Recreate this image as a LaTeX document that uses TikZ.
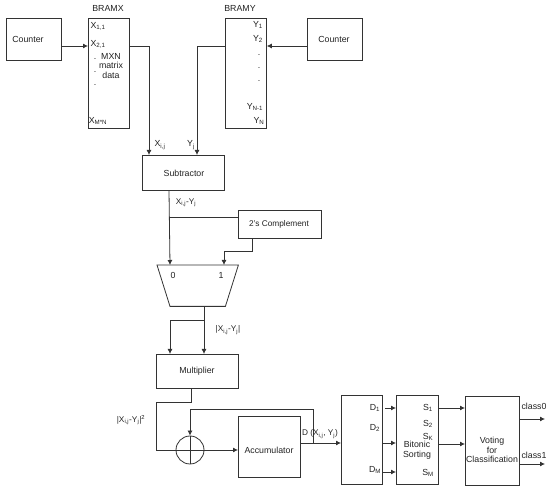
\documentclass[tikz,border=0pt]{standalone}
\usepackage{fontspec}
\setmainfont{Liberation Sans}
\usetikzlibrary{arrows.meta,calc}
\definecolor{ln}{HTML}{333333}
\definecolor{tx}{HTML}{222222}
\tikzset{
  box/.style={draw=ln,line width=0.8pt,rectangle,inner sep=0pt,anchor=north west},
  lbl/.style={inner sep=0pt,text=tx,font=\fontsize{8.8}{9.8}\selectfont,align=center},
  sm/.style={inner sep=0pt,text=tx,font=\fontsize{8.3}{9.5}\selectfont,align=center},
  wire/.style={draw=ln,line width=0.8pt},
  arr/.style={wire,-{Latex[length=5pt,width=5pt]}}
}
\newcommand{\sbs}[1]{\textsubscript{#1}}
\begin{document}
\begin{tikzpicture}[x=1pt,y=-1pt]
\useasboundingbox (0,0) rectangle (550,489);
% boxes
\node[box,minimum width=55pt,minimum height=42pt] (c1) at (6,18) {};
\node[box,minimum width=41pt,minimum height=110pt] (bx) at (88,18) {};
\node[box,minimum width=41pt,minimum height=110pt] (by) at (225,18) {};
\node[box,minimum width=55pt,minimum height=42pt] (c2) at (307,18) {};
\node[box,minimum width=82pt,minimum height=35pt] (sub) at (142,155) {};
\node[box,minimum width=83pt,minimum height=28pt] (comp) at (238,210) {};
\node[rectangle,minimum width=81pt,minimum height=41pt,inner sep=0pt,anchor=north west] (mux) at (157,265) {};
\draw[wire,line join=miter] (mux.north west) -- (mux.north east) -- ($(mux.south east)+(-13,0)$) -- ($(mux.south west)+(13,0)$) -- cycle;
\node[box,minimum width=82pt,minimum height=34pt] (mul) at (156,354) {};
\node[draw=ln,line width=0.8pt,circle,minimum size=28pt,inner sep=0pt] (sum) at (190,450) {};
\node[box,minimum width=62pt,minimum height=61pt] (acc) at (238,416) {};
\node[box,minimum width=41pt,minimum height=89pt] (dd) at (341,395) {};
\node[box,minimum width=42pt,minimum height=89pt] (bs) at (396,395) {};
\node[box,minimum width=54pt,minimum height=89pt] (vt) at (465,396) {};
% plus in circle
\draw[wire] (sum.north) -- (sum.south);
\draw[wire] (sum.west) -- (sum.east);
% level / column helpers
\coordinate (yA) at (0,46);
\coordinate (xA) at (149,0);
\coordinate (xB) at (197,0);
\coordinate (xS) at (169,0);
\coordinate (yB) at (0,217);
\coordinate (xC) at (252,0);
\coordinate (yC) at (0,251);
\coordinate (xD) at (224,0);
\coordinate (xM) at (204,0);
\coordinate (yM) at (0,320);
\coordinate (xN) at (170,0);
\coordinate (xP) at (191,0);
\coordinate (yP) at (0,402);
\coordinate (xQ) at (156,0);
\coordinate (yQ) at (0,443);
\coordinate (xF) at (313,0);
\coordinate (yF) at (0,409);
\coordinate (y1) at (0,408);
\coordinate (y3) at (0,472);
\coordinate (y4) at (0,444);
\coordinate (y5) at (0,419);
\coordinate (y6) at (0,464);
\coordinate (xE) at (545,0);
\coordinate (tapS) at (xS |- yB);
% connectors
\draw[arr] (c1.east |- yA) -- (bx.west |- yA);
\draw[arr] (bx.east |- yA) -- (xA |- yA) -- (xA |- sub.north);
\draw[arr] (by.west |- yA) -- (xB |- yA) -- (xB |- sub.north);
\draw[arr] (c2.west |- yA) -- (by.east |- yA);
\draw[arr] (xS |- sub.south) -- (xN |- mux.north);
\draw[wire] (tapS) -- (comp.west |- yB);
\draw[arr] (xC |- comp.south) -- (xC |- yC) -- (xD |- yC) -- (xD |- mux.north);
\draw[arr] (xM |- mux.south) -- (xM |- mul.north);
\draw[arr] (xM |- yM) -- (xN |- yM) -- (xN |- mul.north);
\draw[wire] (xP |- mul.south) -- (xP |- yP) -- (xQ |- yP) -- (xQ |- sum.west) -- (sum.west);
\draw[arr] (sum.east) -- (acc.west |- sum.east);
\draw[arr] (acc.east |- yQ) -- (dd.west |- yQ);
\draw[arr] (xF |- yQ) -- (xF |- yF) -- (sum.north |- yF) -- (sum.north);
\draw[arr] ([xshift=2pt]dd.east |- y1) -- (bs.west |- y1);
\draw[arr] (dd.east |- yQ) -- (bs.west |- yQ);
\draw[arr] (dd.east |- y3) -- (bs.west |- y3);
\draw[arr] (bs.east |- y1) -- (vt.west |- y1);
\draw[arr] (bs.east |- y4) -- (vt.west |- y4);
\draw[arr] (vt.east |- y5) -- (xE |- y5);
\draw[arr] (vt.east |- y6) -- (xE |- y6);
% labels
\node[lbl] (tBX) at (108,8) {BRAMX};
\node[lbl] (tBY) at (240,8) {BRAMY};
\node[lbl] (tC1) at (28,39) {Counter};
\node[lbl] (tC2) at (334,39) {Counter};
\node[lbl] (tX1) at (98,26) {X\sbs{1,1}};
\node[lbl] (tX2) at (98,44) {X\sbs{2,1}};
\node[lbl] (tD1) at (95,59) {.};
\node[lbl] (tD2) at (95,72) {.};
\node[lbl] (tD3) at (95,85) {.};
\node[lbl] (tMX) at (111,66) {MXN\\matrix\\data};
\node[lbl] (tXM) at (98,121) {X\sbs{M*N}};
\node[lbl] (tY1) at (258,25) {Y\sbs{1}};
\node[lbl] (tY2) at (258,39) {Y\sbs{2}};
\node[lbl] (tE1) at (259,55) {.};
\node[lbl] (tE2) at (259,68) {.};
\node[lbl] (tE3) at (259,81) {.};
\node[lbl] (tYN1) at (255,107) {Y\sbs{N-1}};
\node[lbl] (tYN) at (259,121) {Y\sbs{N}};
\node[lbl] (tXij) at (160,145) {X\sbs{i,j}};
\node[lbl] (tYj) at (191,145) {Y\sbs{j}};
\node[lbl] (tSub) at (184,173) {Subtractor};
\node[sm] (tDiff) at (186,203) {X\sbs{i,j}-Y\sbs{j}};
\node[sm] (tComp) at (279,224) {2's Complement};
\node[lbl] (t0) at (173,275) {0};
\node[lbl] (t1) at (221,275) {1};
\node[sm] (tAbs) at (228,330) {|X\sbs{i,j}-Y\sbs{j}|};
\node[lbl] (tMul) at (197,371) {Multiplier};
\node[sm] (tSq) at (131,420) {|X\sbs{i,j}-Y\sbs{j}|\textsuperscript{2}};
\node[lbl] (tAcc) at (269,450) {Accumulator};
\node[sm] (tDxy) at (320,434) {D (X\sbs{i,j}, Y\sbs{j})};
\node[lbl] (tD11) at (375,408) {D\sbs{1}};
\node[lbl] (tD22) at (375,428) {D\sbs{2}};
\node[lbl] (tDM) at (375,470) {D\sbs{M}};
\node[lbl] (tS1) at (428,408) {S\sbs{1}};
\node[lbl] (tS2) at (428,424) {S\sbs{2}};
\node[lbl] (tSK) at (428,437) {S\sbs{K}};
\node[lbl] (tSM) at (428,473) {S\sbs{M}};
\node[lbl] (tBit) at (417,450) {Bitonic\\Sorting};
\node[lbl] (tVot) at (492,450) {Voting\\for\\Classification};
\node[lbl] (tc0) at (534,406) {class0};
\node[lbl] (tc1) at (534,455) {class1};
\end{tikzpicture}
\end{document}
